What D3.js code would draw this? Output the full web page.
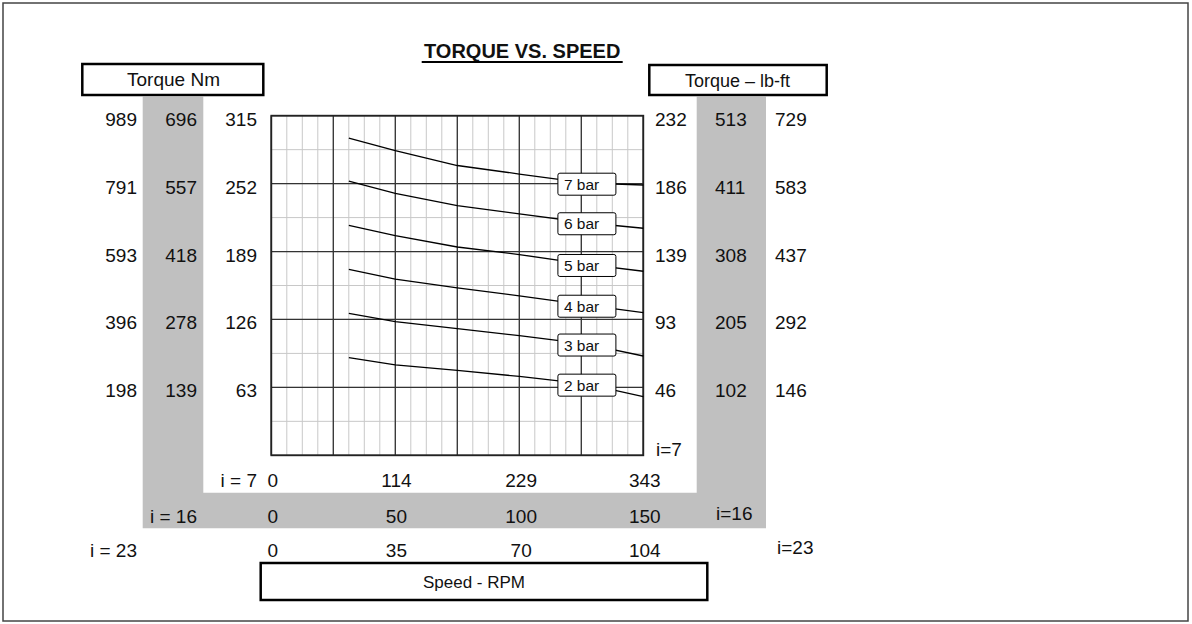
<!DOCTYPE html>
<html><head><meta charset="utf-8">
<script src="https://cdn.jsdelivr.net/npm/d3@7"></script>
<style>body{margin:0;background:#fff} text{font-family:"Liberation Sans",Arial,Helvetica,sans-serif;fill:#111}</style>
</head><body><svg id="c" width="1192" height="624"></svg>
<script>
// ---- data ----
const speedI7 = [71.5, 114.3, 171.5, 228.7, 291, 343];
const bar7 = [294.1, 282.6, 268.8, 260.9, 252.4, 250.7];
const bar6 = [254.4, 243.0, 231.5, 223.9, 215.7, 210.6];
const bar5 = [213.3, 203.7, 193.2, 186.2, 177.0, 170.7];
const bar4 = [172.5, 163.5, 155.2, 147.9, 139.2, 132.3];
const bar3 = [131.7, 123.9, 117.5, 111.0, 103.2, 92.1];
const bar2 = [90.5, 83.8, 78.8, 73.2, 66.0, 54.4];
const seriesNames = ["7 bar", "6 bar", "5 bar", "4 bar", "3 bar", "2 bar"];
const labelSpeed = 291;
const torqueNmI7 = [315, 252, 189, 126, 63];
const torqueNmI16 = [696, 557, 418, 278, 139];
const torqueNmI23 = [989, 791, 593, 396, 198];
const torqueLbI7 = [232, 186, 139, 93, 46];
const torqueLbI16 = [513, 411, 308, 205, 102];
const torqueLbI23 = [729, 583, 437, 292, 146];
const speedTicksI7 = [0, 114, 229, 343];
const speedTicksI16 = [0, 50, 100, 150];
const speedTicksI23 = [0, 35, 70, 104];

const series = [bar7, bar6, bar5, bar4, bar3, bar2];

// ---- layout ----
const svg = d3.select("#c");
const L = 271.3, R = 643.3, T = 115.7, B = 455.3;
const x = d3.scaleLinear().domain([0, 343]).range([L, R]);
const y = d3.scaleLinear().domain([0, 315]).range([B, T]);

svg.append("rect").attr("x",0).attr("y",0).attr("width",1192).attr("height",624).attr("fill","#fff");
svg.append("rect").attr("x",3).attr("y",3).attr("width",1185).attr("height",618)
  .attr("fill","none").attr("stroke","#444").attr("stroke-width",1.5);

// gray band
svg.append("path").attr("fill","#c0c0c0")
  .attr("d","M142.7,96.7H203.3V492.7H696.7V96.7H766V528.3H142.7Z");

// title
svg.append("text").attr("x",522.2).attr("y",58).attr("text-anchor","middle")
  .style("font-size","20px").style("font-weight","bold").text("TORQUE VS. SPEED");
svg.append("line").attr("x1",421.7).attr("x2",622.7).attr("y1",62).attr("y2",62)
  .attr("stroke","#000").attr("stroke-width",2);

// header boxes
function box(x0,y0,x1,y1,label,fs,cx){
  svg.append("rect").attr("x",x0).attr("y",y0).attr("width",x1-x0).attr("height",y1-y0)
    .attr("fill","#fff").attr("stroke","#000").attr("stroke-width",2.5);
  svg.append("text").attr("x",cx).attr("y",(y0+y1)/2+6.5).attr("text-anchor","middle")
    .style("font-size",fs).text(label);
}
box(82.3,64,263.3,95,"Torque Nm","19px",173.5);
box(649.3,65,826.7,95,"Torque \u2013 lb-ft","18px",737.5);
box(260.7,563,707.3,600,"Speed - RPM","17px",474);

// grid
const g = svg.append("g");
const minorX = d3.range(0,25).map(i=>i*343/24);
const majorX = d3.range(0,7).map(i=>i*343/6);
const minorY = d3.range(0,11).map(i=>i*31.5);
const majorY = d3.range(0,6).map(i=>i*63);
g.selectAll(".mx").data(minorX).join("line").attr("x1",d=>x(d)).attr("x2",d=>x(d))
  .attr("y1",T).attr("y2",B).attr("stroke","#c8c8c8").attr("stroke-width",1);
g.selectAll(".my").data(minorY).join("line").attr("y1",d=>y(d)).attr("y2",d=>y(d))
  .attr("x1",L).attr("x2",R).attr("stroke","#c8c8c8").attr("stroke-width",1);
g.selectAll(".Mx").data(majorX).join("line").attr("x1",d=>x(d)).attr("x2",d=>x(d))
  .attr("y1",T).attr("y2",B).attr("stroke","#333").attr("stroke-width",1.3);
g.selectAll(".My").data(majorY).join("line").attr("y1",d=>y(d)).attr("y2",d=>y(d))
  .attr("x1",L).attr("x2",R).attr("stroke","#333").attr("stroke-width",1.3);
svg.append("rect").attr("x",L).attr("y",T).attr("width",R-L).attr("height",B-T)
  .attr("fill","none").attr("stroke","#222").attr("stroke-width",1.8);

// curves
const line = d3.line().x((d,i)=>x(speedI7[i])).y(d=>y(d));
svg.selectAll(".curve").data(series).join("path").attr("d",line)
  .attr("fill","none").attr("stroke","#000").attr("stroke-width",1.3);

// labels
const li = speedI7.indexOf(labelSpeed);
const lab = svg.selectAll(".lab").data(series).join("g")
  .attr("transform",d=>`translate(${x(labelSpeed)},${y(d[li])+1})`);
lab.append("rect").attr("x",-29).attr("y",-11).attr("width",58).attr("height",22).attr("rx",2)
  .attr("fill","#fff").attr("stroke","#000").attr("stroke-width",1);
lab.append("text").attr("x",-23).attr("y",5.5).style("font-size","15.5px")
  .text((d,i)=>seriesNames[i]);

// torque columns
function col(vals, xpos, anchor){
  svg.append("g").selectAll("text").data(vals).join("text")
    .attr("x",xpos).attr("y",(d,i)=>y(torqueNmI7[i])+10).attr("text-anchor",anchor)
    .style("font-size","19px").text(d=>d);
}
col(torqueNmI23,137,"end");
col(torqueNmI16,197,"end");
col(torqueNmI7,257,"end");
col(torqueLbI7,655,"start");
col(torqueLbI16,715,"start");
col(torqueLbI23,775,"start");

// speed rows
function row(vals, yb){
  svg.append("g").selectAll("text").data(vals).join("text")
    .attr("x",(d,i)=>x(speedTicksI7[i])+1.5).attr("y",yb).attr("text-anchor","middle")
    .style("font-size","19px").text(d=>d);
}
row(speedTicksI7,487);
row(speedTicksI16,523);
row(speedTicksI23,557);

function t(tx,ty,s,anchor){
  svg.append("text").attr("x",tx).attr("y",ty).attr("text-anchor",anchor).style("font-size","19px").text(s);
}
t(257,487,"i = 7","end");
t(197,523,"i = 16","end");
t(137,557,"i = 23","end");
t(656,456,"i=7","start");
t(716,520,"i=16","start");
t(777,554,"i=23","start");
</script></body></html>
